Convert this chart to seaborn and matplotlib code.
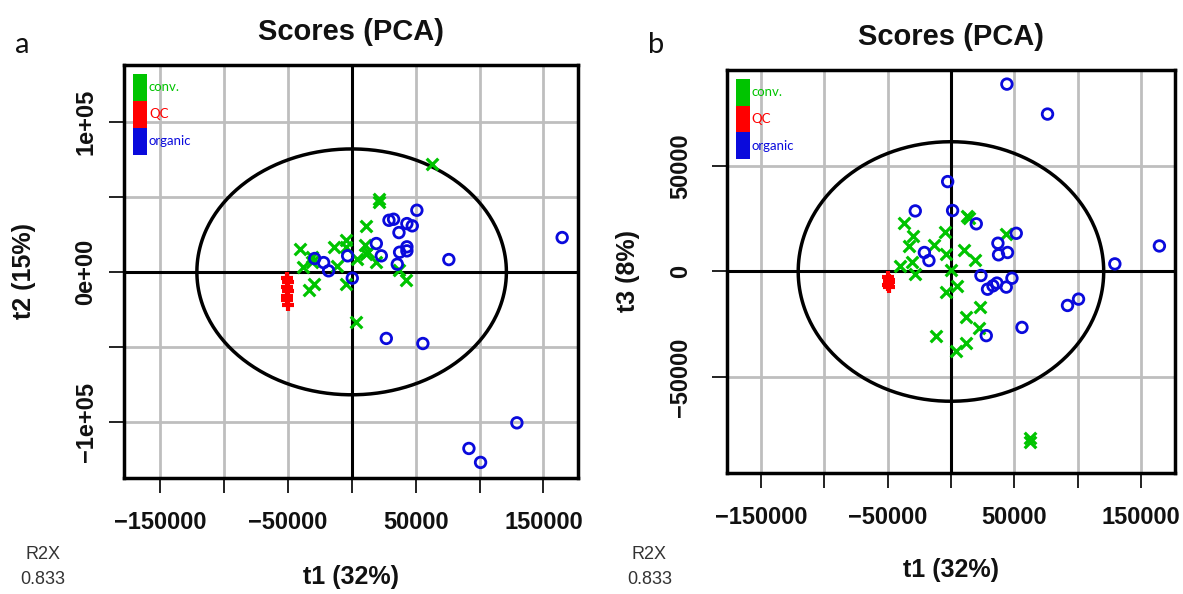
import numpy as np
import pandas as pd
import seaborn as sns
import matplotlib.pyplot as plt
from matplotlib.patches import Patch

# Puntuaciones PCA (panel a: t1 vs t2, panel b: t1 vs t3)
conv_a_t1 = [62800, 21400, 21400, 10900, -40600, -13800, -4700, -4200, 10200, 12800, 4200, 19300,
             -31000, -38000, -30700, -11500, -29700, -33600, -4700, 42700, 37000, 3600, 11500]
conv_a_t2 = [71800, 48500, 46500, 30700, 15100, 16700, 21100, 16700, 17800, 13300, 8900, 6700,
             9600, 3300, 6700, 4000, -8200, -12200, -8200, -5600, 1000, -33300, 12200]
qc_a_t1 = [-50500, -49500, -50500, -49800, -50200, -50800, -49600]
qc_a_t2 = [-4000, -7000, -10000, -13000, -16000, -19000, -22000]
org_a_t1 = [164600, 51000, 29200, 32800, 43200, 47400, 37000, 19300, 43200, 37500, 43200, 23200,
            35700, 76000, -28900, -21900, -18000, -3100, 500, 27100, 55700, 129200, 91700, 100800]
org_a_t2 = [22900, 41100, 34400, 35100, 32200, 30700, 26200, 18900, 16700, 13100, 14000, 10700,
            5100, 8200, 8900, 6200, 700, 10700, -4200, -44400, -47800, -100700, -117800, -127100]

conv_b_t1 = [-36800, -30000, -32900, -13700, -4500, 12600, 14200, 43700, 10000, 19200, -4200, -40000,
             -30800, -28700, 0, 4700, -3900, 22600, 12100, 21800, -11600, 11800, 3700, 62600, 62600]
conv_b_t3 = [23200, 16900, 12300, 12500, 18600, 26400, 25200, 17700, 10300, 5500, 8400, 2800,
             4700, -1100, 800, -6800, -9900, -16600, -21800, -26800, -30800, -33900, -37900, -78900, -80900]
qc_b_t1 = [-49500, -48800, -49200, -49600, -48900]
qc_b_t3 = [-2500, -3800, -5000, -6200, -7200]
org_b_t1 = [44200, 76300, -2600, -28200, 1300, 20000, 51600, 37100, 44700, 37600, -21000, -17400,
            164700, 129500, 23700, 48200, 28900, 33200, 36300, 43700, 92100, 100800, 56100, 27900]
org_b_t3 = [88800, 74600, 42600, 28700, 28900, 22600, 18100, 13400, 9000, 7900, 9000, 5200,
            12100, 3600, -1900, -3200, -8400, -6800, -5500, -7400, -16100, -13100, -26500, -30400]

# Radios de la elipse de Hotelling (t1, t2/t3)
elipse_a = [121000, 82000]
elipse_b = [120700, 61500]

x_ticks = [-150000, -100000, -50000, 0, 50000, 100000, 150000]
x_labels = ['\u2212150000', '', '\u221250000', '', '50000', '', '150000']
ya_ticks = [-100000, -50000, 0, 50000, 100000]
ya_labels = ['\u22121e+05', '', '0e+00', '', '1e+05']
yb_ticks = [-50000, 0, 50000]
yb_labels = ['\u221250000', '0', '50000']

grupos = ['conv.', 'QC', 'organic']
colores = {'conv.': '#00c400', 'QC': '#ff0000', 'organic': '#0a0adc'}

sns.set_theme(style='white')
plt.rcParams['font.family'] = ['Liberation Sans', 'DejaVu Sans']
plt.rcParams['text.color'] = '#111111'
plt.rcParams['axes.labelcolor'] = '#111111'
plt.rcParams['xtick.color'] = '#111111'
plt.rcParams['ytick.color'] = '#111111'

fig = plt.figure(figsize=(11.83, 5.94), dpi=100)
ax_a = fig.add_axes([0.1048, 0.1953, 0.3838, 0.6953])
ax_b = fig.add_axes([0.6145, 0.2037, 0.3787, 0.6785])


def panel(ax, conv, qc, org, elipse, xlim, ylim, yticks, ylabels, ylabel, ypad, ylab_x):
    for t in x_ticks:
        ax.axvline(t, color='#bebebe', lw=2, zorder=0)
    for t in yticks:
        ax.axhline(t, color='#bebebe', lw=2, zorder=0)
    ax.axhline(0, color='black', lw=2.2, zorder=1)
    ax.axvline(0, color='black', lw=2.2, zorder=1)

    ang = np.linspace(0, 2 * np.pi, 400)
    ax.plot(elipse[0] * np.cos(ang), elipse[1] * np.sin(ang), color='black', lw=2.5, zorder=2)

    sns.scatterplot(x=conv[0], y=conv[1], ax=ax, marker='x', s=70, color=colores['conv.'],
                    linewidth=2.3, zorder=3)
    sns.scatterplot(x=org[0], y=org[1], ax=ax, marker='o', s=58, facecolor='none',
                    edgecolor=colores['organic'], linewidth=2, zorder=3)
    sns.scatterplot(x=qc[0], y=qc[1], ax=ax, marker='+', s=70, color=colores['QC'],
                    linewidth=3, zorder=4)

    ax.set_xlim(xlim)
    ax.set_ylim(ylim)
    ax.set_xticks(x_ticks)
    ax.set_xticklabels(x_labels, fontsize=17, fontweight='bold')
    ax.set_yticks(yticks)
    ax.set_yticklabels(ylabels, fontsize=17, fontweight='bold', rotation=90, va='center')
    ax.tick_params(axis='x', length=11, width=1.3, pad=13, direction='out', bottom=True)
    ax.tick_params(axis='y', length=11, width=1.3, pad=ypad, direction='out', left=True)
    for s in ax.spines.values():
        s.set_color('black')
        s.set_linewidth(2.5)
        s.set_zorder(5)

    ax.set_xlabel('t1 (32%)', fontsize=18, fontweight='bold')
    ax.xaxis.set_label_coords(0.5, -0.24)
    ax.xaxis.label.set_va('center')
    ax.set_ylabel(ylabel, fontsize=18, fontweight='bold')
    ax.yaxis.set_label_coords(ylab_x, 0.5)
    ax.yaxis.label.set_va('center')
    ax.set_title('Scores (PCA)', fontsize=21, fontweight='bold', pad=18)

    handles = [Patch(facecolor=colores[g], edgecolor='none') for g in grupos]
    leg = ax.legend(handles, grupos, loc='upper left', bbox_to_anchor=(0.02, 0.978),
                    frameon=False, handlelength=1.05, handleheight=2.75, labelspacing=0,
                    handletextpad=0.15, borderpad=0, borderaxespad=0,
                    prop={'family': 'Lato', 'size': 9.5}, labelcolor=[colores[g] for g in grupos])
    leg.set_zorder(6)


panel(ax_a, (conv_a_t1, conv_a_t2), (qc_a_t1, qc_a_t2), (org_a_t1, org_a_t2), elipse_a,
      (-178000, 177000), (-137500, 138000), ya_ticks, ya_labels, 't2 (15%)', 8, -0.22)
panel(ax_b, (conv_b_t1, conv_b_t3), (qc_b_t1, qc_b_t3), (org_b_t1, org_b_t3), elipse_b,
      (-177000, 177000), (-95500, 95500), yb_ticks, yb_labels, 't3 (8%)', 14, -0.22)

fig.text(0.013, 0.925, 'a', fontsize=21, family='Lato', va='center', ha='left')
fig.text(0.548, 0.925, 'b', fontsize=21, family='Lato', va='center', ha='left')
for xr in (0.036, 0.549):
    fig.text(xr, 0.045, 'R2X\n0.833', fontsize=13, color='#333333', ha='center', va='center',
             linespacing=1.6)

fig.savefig('out.png', dpi=100)
